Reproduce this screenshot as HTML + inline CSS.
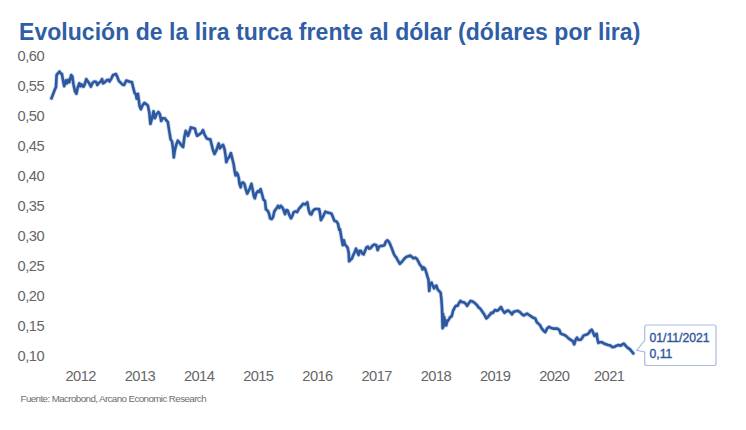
<!DOCTYPE html>
<html><head><meta charset="utf-8"><style>
html,body{margin:0;padding:0;background:#fff;}
body{width:746px;height:430px;position:relative;overflow:hidden;font-family:"Liberation Sans",sans-serif;}
.t{position:absolute;left:19px;top:19.1px;font-weight:bold;font-size:23px;color:#2f5ea7;white-space:nowrap;letter-spacing:0.045px;}
.yl{position:absolute;left:17.6px;width:40px;height:16px;line-height:16px;font-size:14.7px;color:#666;letter-spacing:-0.5px;white-space:nowrap;}
.xl{position:absolute;top:368px;width:40px;height:16px;line-height:16px;text-align:center;font-size:14.7px;color:#666;letter-spacing:-0.6px;white-space:nowrap;}
.src{position:absolute;left:20.5px;top:393.2px;font-size:9.8px;line-height:12px;letter-spacing:-0.6px;color:#6e6e6e;white-space:nowrap;}
.ann{position:absolute;left:649.5px;top:329.8px;font-size:12.2px;line-height:16px;color:#2d559e;white-space:nowrap;-webkit-text-stroke:0.35px #2d559e;}
svg{position:absolute;left:0;top:0;}
#wrap{position:absolute;left:0;top:0;width:746px;height:430px;}
</style></head><body><div id="wrap">
<div class="t">Evolución de la lira turca frente al dólar (dólares por lira)</div>
<div class="yl" style="top:48.2px">0,60</div><div class="yl" style="top:78.2px">0,55</div><div class="yl" style="top:108.2px">0,50</div><div class="yl" style="top:138.2px">0,45</div><div class="yl" style="top:168.2px">0,40</div><div class="yl" style="top:198.2px">0,35</div><div class="yl" style="top:228.2px">0,30</div><div class="yl" style="top:258.2px">0,25</div><div class="yl" style="top:288.2px">0,20</div><div class="yl" style="top:318.2px">0,15</div><div class="yl" style="top:348.2px">0,10</div>
<div class="xl" style="left:60.7px">2012</div><div class="xl" style="left:119.9px">2013</div><div class="xl" style="left:179.1px">2014</div><div class="xl" style="left:238.3px">2015</div><div class="xl" style="left:297.5px">2016</div><div class="xl" style="left:356.7px">2017</div><div class="xl" style="left:415.9px">2018</div><div class="xl" style="left:475.1px">2019</div><div class="xl" style="left:534.3px">2020</div><div class="xl" style="left:589.2px">2021</div>
<div class="src">Fuente: Macrobond, Arcano Economic Research</div>
<svg width="746" height="430" viewBox="0 0 746 430">
<path d="M51.4,98.4 L53.7,92.6 L56.0,86.7 L56.6,75.1 L58.4,72.8 L59.5,71.6 L60.7,73.4 L61.9,74.0 L63.0,80.3 L64.2,86.2 L65.9,80.3 L67.1,83.3 L68.3,79.8 L69.4,82.1 L71.2,75.1 L72.3,76.3 L73.5,84.4 L75.0,91.4 L76.4,93.7 L77.6,87.9 L79.3,83.3 L80.5,86.2 L81.6,84.4 L83.4,86.7 L84.5,85.0 L86.3,79.2 L87.4,80.9 L89.2,83.3 L90.9,86.7 L92.7,82.7 L94.4,81.5 L96.2,82.1 L97.3,85.0 L99.1,82.7 L100.8,81.5 L102.0,79.2 L103.1,83.3 L104.9,82.1 L106.6,80.3 L108.4,79.8 L109.5,81.5 L111.3,78.6 L113.0,75.1 L114.8,74.5 L115.9,74.0 L117.1,76.3 L118.8,80.9 L120.6,82.7 L122.3,84.4 L124.1,85.0 L126.3,80.6 L128.4,81.3 L130.5,82.0 L131.9,82.0 L133.3,88.2 L134.7,93.1 L136.0,94.5 L136.7,98.7 L137.9,93.8 L138.8,100.1 L139.5,105.7 L140.9,109.2 L142.3,105.7 L144.4,102.9 L146.5,104.3 L147.9,105.7 L149.3,112.7 L150.4,123.8 L152.1,118.2 L153.5,111.3 L154.9,118.2 L156.6,114.0 L158.4,112.0 L159.8,114.0 L161.2,121.0 L162.6,118.2 L164.0,118.2 L165.0,118.4 L166.4,120.5 L167.8,121.9 L169.2,130.9 L170.6,139.3 L172.0,141.4 L173.1,149.1 L173.8,157.4 L174.8,150.5 L176.2,144.9 L177.8,140.7 L179.7,142.8 L181.0,144.9 L183.1,147.0 L184.5,136.5 L185.7,130.9 L187.0,133.0 L188.0,135.8 L189.4,132.3 L190.8,127.4 L192.9,128.1 L195.0,128.8 L196.0,133.0 L197.1,135.8 L199.2,134.4 L201.3,133.0 L203.0,130.2 L204.8,135.1 L206.9,138.6 L209.0,139.3 L210.3,139.3 L211.7,144.9 L213.1,150.5 L214.5,154.0 L216.6,149.8 L218.7,143.5 L220.0,148.3 L221.4,146.2 L223.1,144.8 L224.5,149.0 L225.6,155.9 L226.3,162.2 L227.7,158.7 L229.1,157.3 L230.9,153.1 L232.3,158.7 L233.7,164.3 L234.7,171.3 L235.6,175.5 L236.7,172.7 L237.9,174.8 L238.8,178.3 L239.5,183.8 L240.7,187.3 L241.6,183.1 L243.0,182.4 L244.4,183.8 L245.8,189.4 L247.2,193.6 L248.6,190.8 L250.0,188.0 L251.4,183.8 L252.8,190.5 L253.8,196.0 L254.8,198.3 L256.3,193.2 L257.8,191.2 L259.2,191.9 L260.6,189.1 L262.0,194.0 L263.4,199.5 L265.0,200.9 L265.9,209.3 L267.6,210.7 L269.0,213.5 L270.1,218.4 L271.7,219.1 L273.1,217.0 L274.3,211.4 L275.9,209.3 L278.0,205.8 L279.4,207.9 L280.8,205.8 L282.2,207.2 L283.6,210.0 L285.0,214.2 L286.4,210.0 L287.8,210.7 L289.2,214.9 L291.0,218.4 L292.4,215.6 L293.8,212.1 L295.5,211.4 L297.1,212.1 L299.0,208.6 L301.0,206.5 L303.1,203.7 L305.2,204.4 L307.3,202.3 L308.7,210.0 L310.0,213.8 L311.4,214.5 L312.8,211.0 L314.9,209.0 L317.0,209.0 L319.1,209.0 L320.0,213.1 L320.9,220.1 L322.6,217.3 L324.0,214.5 L325.3,211.7 L327.4,212.4 L329.5,213.1 L331.6,213.8 L333.0,217.3 L334.4,220.8 L336.5,221.5 L337.9,223.6 L339.3,229.9 L340.0,229.2 L341.4,237.6 L342.1,241.7 L342.8,245.2 L343.9,240.3 L344.9,244.5 L346.3,245.9 L347.7,248.0 L348.7,252.9 L349.1,261.3 L350.5,259.9 L351.9,258.5 L353.3,255.0 L354.7,252.2 L356.0,248.7 L357.4,252.2 L358.6,255.0 L359.5,250.8 L360.9,250.8 L362.3,253.6 L363.7,254.3 L365.1,250.8 L366.5,247.3 L367.9,246.6 L369.3,248.7 L370.7,248.0 L372.4,245.9 L374.2,244.5 L376.3,245.2 L377.7,250.1 L379.1,246.6 L380.7,245.9 L382.6,245.9 L384.4,245.2 L385.8,241.7 L387.4,240.3 L388.8,241.7 L390.2,244.5 L391.3,247.3 L392.7,250.8 L393.7,253.6 L395.0,256.0 L396.4,257.6 L397.8,260.3 L399.9,263.8 L402.0,261.7 L404.1,259.0 L406.2,256.9 L408.3,256.2 L410.3,255.5 L412.0,256.9 L413.4,258.3 L415.2,257.6 L417.0,259.0 L418.4,261.7 L419.8,264.5 L421.5,266.6 L422.6,269.4 L423.6,267.3 L425.0,268.7 L426.4,272.9 L427.4,276.4 L428.5,279.9 L429.2,291.0 L430.2,283.4 L431.6,282.7 L432.7,285.5 L434.1,288.3 L435.0,286.3 L436.4,285.6 L437.5,289.1 L439.2,291.2 L440.6,292.6 L441.3,298.1 L442.0,307.9 L442.6,328.1 L443.1,314.0 L443.6,326.5 L444.2,317.0 L444.8,325.0 L445.5,320.0 L446.2,325.5 L447.0,322.0 L447.6,321.2 L449.0,319.1 L450.3,317.0 L451.7,316.3 L453.1,310.7 L454.5,307.9 L455.9,305.8 L457.6,305.8 L459.0,303.0 L460.4,300.9 L462.2,302.3 L464.0,302.3 L465.7,303.7 L467.1,305.8 L468.5,303.7 L470.6,300.9 L472.7,301.6 L474.8,303.0 L476.9,305.1 L479.0,307.9 L480.3,308.6 L481.7,310.7 L483.1,312.8 L484.5,314.9 L486.3,318.4 L488.0,317.0 L489.4,314.9 L490.0,315.0 L491.1,312.9 L492.8,312.9 L494.9,310.1 L497.0,310.8 L499.1,309.4 L500.9,307.0 L502.6,310.1 L504.4,312.9 L506.0,311.5 L508.1,310.4 L510.2,312.2 L512.0,314.3 L513.7,311.8 L515.8,311.2 L517.9,310.8 L520.0,312.2 L522.1,314.3 L523.8,315.4 L525.6,314.3 L527.0,313.6 L529.1,315.0 L531.2,316.4 L533.3,317.8 L535.3,318.5 L536.7,322.0 L538.1,323.4 L540.0,325.1 L541.4,327.9 L543.5,330.7 L545.3,332.1 L547.0,328.6 L549.1,326.8 L551.2,327.9 L553.3,328.6 L555.3,328.6 L557.4,328.6 L559.3,330.0 L560.7,333.5 L562.3,334.2 L564.4,334.9 L566.5,336.3 L568.6,338.4 L570.7,339.8 L572.8,341.2 L574.2,344.4 L575.6,339.8 L577.0,337.7 L578.4,339.8 L580.5,339.8 L581.9,338.4 L583.5,335.6 L585.3,334.9 L587.4,334.2 L589.1,332.8 L590.0,331.0 L591.7,329.7 L593.1,332.4 L594.5,335.9 L595.6,334.5 L596.7,333.8 L597.3,338.7 L598.4,342.9 L599.8,342.2 L601.9,342.2 L604.0,343.6 L606.0,344.3 L608.1,345.0 L610.2,345.4 L612.3,347.1 L614.4,346.8 L616.5,345.7 L618.6,345.0 L620.7,345.7 L622.4,344.3 L623.8,343.6 L625.6,345.7 L627.7,347.8 L629.8,349.2 L631.6,351.3 L633.3,353.4" fill="none" stroke="#2c58a2" stroke-opacity="0.28" stroke-width="4.2" stroke-linejoin="round" stroke-linecap="round"/>
<path d="M51.4,98.4 L53.7,92.6 L56.0,86.7 L56.6,75.1 L58.4,72.8 L59.5,71.6 L60.7,73.4 L61.9,74.0 L63.0,80.3 L64.2,86.2 L65.9,80.3 L67.1,83.3 L68.3,79.8 L69.4,82.1 L71.2,75.1 L72.3,76.3 L73.5,84.4 L75.0,91.4 L76.4,93.7 L77.6,87.9 L79.3,83.3 L80.5,86.2 L81.6,84.4 L83.4,86.7 L84.5,85.0 L86.3,79.2 L87.4,80.9 L89.2,83.3 L90.9,86.7 L92.7,82.7 L94.4,81.5 L96.2,82.1 L97.3,85.0 L99.1,82.7 L100.8,81.5 L102.0,79.2 L103.1,83.3 L104.9,82.1 L106.6,80.3 L108.4,79.8 L109.5,81.5 L111.3,78.6 L113.0,75.1 L114.8,74.5 L115.9,74.0 L117.1,76.3 L118.8,80.9 L120.6,82.7 L122.3,84.4 L124.1,85.0 L126.3,80.6 L128.4,81.3 L130.5,82.0 L131.9,82.0 L133.3,88.2 L134.7,93.1 L136.0,94.5 L136.7,98.7 L137.9,93.8 L138.8,100.1 L139.5,105.7 L140.9,109.2 L142.3,105.7 L144.4,102.9 L146.5,104.3 L147.9,105.7 L149.3,112.7 L150.4,123.8 L152.1,118.2 L153.5,111.3 L154.9,118.2 L156.6,114.0 L158.4,112.0 L159.8,114.0 L161.2,121.0 L162.6,118.2 L164.0,118.2 L165.0,118.4 L166.4,120.5 L167.8,121.9 L169.2,130.9 L170.6,139.3 L172.0,141.4 L173.1,149.1 L173.8,157.4 L174.8,150.5 L176.2,144.9 L177.8,140.7 L179.7,142.8 L181.0,144.9 L183.1,147.0 L184.5,136.5 L185.7,130.9 L187.0,133.0 L188.0,135.8 L189.4,132.3 L190.8,127.4 L192.9,128.1 L195.0,128.8 L196.0,133.0 L197.1,135.8 L199.2,134.4 L201.3,133.0 L203.0,130.2 L204.8,135.1 L206.9,138.6 L209.0,139.3 L210.3,139.3 L211.7,144.9 L213.1,150.5 L214.5,154.0 L216.6,149.8 L218.7,143.5 L220.0,148.3 L221.4,146.2 L223.1,144.8 L224.5,149.0 L225.6,155.9 L226.3,162.2 L227.7,158.7 L229.1,157.3 L230.9,153.1 L232.3,158.7 L233.7,164.3 L234.7,171.3 L235.6,175.5 L236.7,172.7 L237.9,174.8 L238.8,178.3 L239.5,183.8 L240.7,187.3 L241.6,183.1 L243.0,182.4 L244.4,183.8 L245.8,189.4 L247.2,193.6 L248.6,190.8 L250.0,188.0 L251.4,183.8 L252.8,190.5 L253.8,196.0 L254.8,198.3 L256.3,193.2 L257.8,191.2 L259.2,191.9 L260.6,189.1 L262.0,194.0 L263.4,199.5 L265.0,200.9 L265.9,209.3 L267.6,210.7 L269.0,213.5 L270.1,218.4 L271.7,219.1 L273.1,217.0 L274.3,211.4 L275.9,209.3 L278.0,205.8 L279.4,207.9 L280.8,205.8 L282.2,207.2 L283.6,210.0 L285.0,214.2 L286.4,210.0 L287.8,210.7 L289.2,214.9 L291.0,218.4 L292.4,215.6 L293.8,212.1 L295.5,211.4 L297.1,212.1 L299.0,208.6 L301.0,206.5 L303.1,203.7 L305.2,204.4 L307.3,202.3 L308.7,210.0 L310.0,213.8 L311.4,214.5 L312.8,211.0 L314.9,209.0 L317.0,209.0 L319.1,209.0 L320.0,213.1 L320.9,220.1 L322.6,217.3 L324.0,214.5 L325.3,211.7 L327.4,212.4 L329.5,213.1 L331.6,213.8 L333.0,217.3 L334.4,220.8 L336.5,221.5 L337.9,223.6 L339.3,229.9 L340.0,229.2 L341.4,237.6 L342.1,241.7 L342.8,245.2 L343.9,240.3 L344.9,244.5 L346.3,245.9 L347.7,248.0 L348.7,252.9 L349.1,261.3 L350.5,259.9 L351.9,258.5 L353.3,255.0 L354.7,252.2 L356.0,248.7 L357.4,252.2 L358.6,255.0 L359.5,250.8 L360.9,250.8 L362.3,253.6 L363.7,254.3 L365.1,250.8 L366.5,247.3 L367.9,246.6 L369.3,248.7 L370.7,248.0 L372.4,245.9 L374.2,244.5 L376.3,245.2 L377.7,250.1 L379.1,246.6 L380.7,245.9 L382.6,245.9 L384.4,245.2 L385.8,241.7 L387.4,240.3 L388.8,241.7 L390.2,244.5 L391.3,247.3 L392.7,250.8 L393.7,253.6 L395.0,256.0 L396.4,257.6 L397.8,260.3 L399.9,263.8 L402.0,261.7 L404.1,259.0 L406.2,256.9 L408.3,256.2 L410.3,255.5 L412.0,256.9 L413.4,258.3 L415.2,257.6 L417.0,259.0 L418.4,261.7 L419.8,264.5 L421.5,266.6 L422.6,269.4 L423.6,267.3 L425.0,268.7 L426.4,272.9 L427.4,276.4 L428.5,279.9 L429.2,291.0 L430.2,283.4 L431.6,282.7 L432.7,285.5 L434.1,288.3 L435.0,286.3 L436.4,285.6 L437.5,289.1 L439.2,291.2 L440.6,292.6 L441.3,298.1 L442.0,307.9 L442.6,328.1 L443.1,314.0 L443.6,326.5 L444.2,317.0 L444.8,325.0 L445.5,320.0 L446.2,325.5 L447.0,322.0 L447.6,321.2 L449.0,319.1 L450.3,317.0 L451.7,316.3 L453.1,310.7 L454.5,307.9 L455.9,305.8 L457.6,305.8 L459.0,303.0 L460.4,300.9 L462.2,302.3 L464.0,302.3 L465.7,303.7 L467.1,305.8 L468.5,303.7 L470.6,300.9 L472.7,301.6 L474.8,303.0 L476.9,305.1 L479.0,307.9 L480.3,308.6 L481.7,310.7 L483.1,312.8 L484.5,314.9 L486.3,318.4 L488.0,317.0 L489.4,314.9 L490.0,315.0 L491.1,312.9 L492.8,312.9 L494.9,310.1 L497.0,310.8 L499.1,309.4 L500.9,307.0 L502.6,310.1 L504.4,312.9 L506.0,311.5 L508.1,310.4 L510.2,312.2 L512.0,314.3 L513.7,311.8 L515.8,311.2 L517.9,310.8 L520.0,312.2 L522.1,314.3 L523.8,315.4 L525.6,314.3 L527.0,313.6 L529.1,315.0 L531.2,316.4 L533.3,317.8 L535.3,318.5 L536.7,322.0 L538.1,323.4 L540.0,325.1 L541.4,327.9 L543.5,330.7 L545.3,332.1 L547.0,328.6 L549.1,326.8 L551.2,327.9 L553.3,328.6 L555.3,328.6 L557.4,328.6 L559.3,330.0 L560.7,333.5 L562.3,334.2 L564.4,334.9 L566.5,336.3 L568.6,338.4 L570.7,339.8 L572.8,341.2 L574.2,344.4 L575.6,339.8 L577.0,337.7 L578.4,339.8 L580.5,339.8 L581.9,338.4 L583.5,335.6 L585.3,334.9 L587.4,334.2 L589.1,332.8 L590.0,331.0 L591.7,329.7 L593.1,332.4 L594.5,335.9 L595.6,334.5 L596.7,333.8 L597.3,338.7 L598.4,342.9 L599.8,342.2 L601.9,342.2 L604.0,343.6 L606.0,344.3 L608.1,345.0 L610.2,345.4 L612.3,347.1 L614.4,346.8 L616.5,345.7 L618.6,345.0 L620.7,345.7 L622.4,344.3 L623.8,343.6 L625.6,345.7 L627.7,347.8 L629.8,349.2 L631.6,351.3 L633.3,353.4" fill="none" stroke="#2c58a2" stroke-width="2.6" stroke-linejoin="round" stroke-linecap="round"/>
<path d="M646.7,325 L714,325 Q716,325 716,327 L716,363.5 Q716,365.5 714,365.5 L646.7,365.5 Q644.7,365.5 644.7,363.5 L644.7,352 L636.8,350.3 L644.7,340.3 L644.7,327 Q644.7,325 646.7,325 Z" fill="#fff" stroke="#a9bde0" stroke-width="1.2"/>
</svg>
<div class="ann">01/11/2021<br>0,11</div>
</div></body></html>
